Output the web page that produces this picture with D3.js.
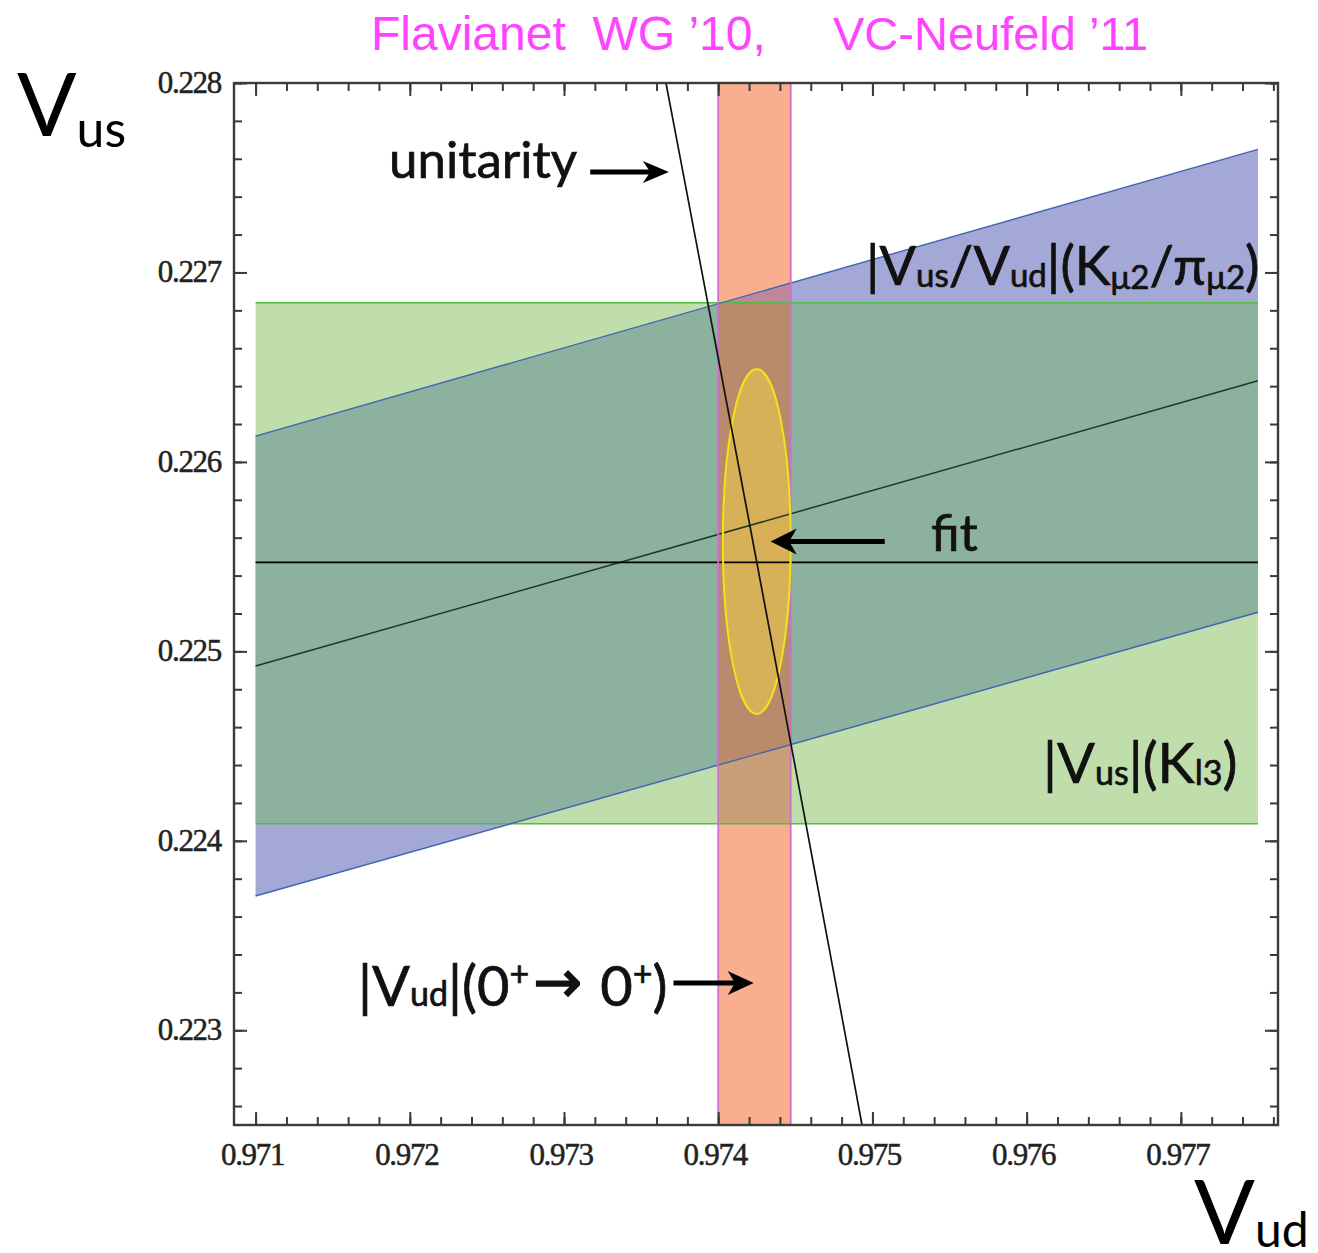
<!DOCTYPE html>
<html>
<head>
<meta charset="utf-8">
<script src="https://cdn.jsdelivr.net/npm/d3@7"></script>
<style>
  body { margin: 0; background: #fff; }
  svg { display: block; }
</style>
</head>
<body>
<svg id="chart" width="1318" height="1253"></svg>
<script>
// ---- axis extents and ticks ----
const vudDomain = [0.97086, 0.97763];
const vusDomain = [0.2225, 0.228];
const vudTicks = [0.971, 0.972, 0.973, 0.974, 0.975, 0.976, 0.977];
const vusTicks = [0.223, 0.224, 0.225, 0.226, 0.227, 0.228];
const vudTickLabels = ["0.971", "0.972", "0.973", "0.974", "0.975", "0.976", "0.977"];
const vusTickLabels = ["0.223", "0.224", "0.225", "0.226", "0.227", "0.228"];
const minorStep = 0.0002;

// ---- constraints ----
// Vud range over which the horizontal and slanted bands are drawn
const bandVudRange = [0.971, 0.9775];
// |Vud| from superallowed 0+ -> 0+ decays: [low, high]
const vudSuperallowed = [0.97400, 0.97447];
// |Vus| from Kl3: [low, central, high]
const vusKl3 = [0.22409, 0.22547, 0.22684];
// |Vus/Vud| from Kmu2/pimu2: [low, central, high]
const ratioKpi = [0.23039, 0.23164, 0.23289];
// fit result: centre [Vud, Vus] and half-widths [dVud, dVus]
const fitCenter = [0.97425, 0.22558];
const fitHalfWidth = [0.00022, 0.00091];

// ---- colours ----
const C = {
  green: "#bfdeac", blue: "#a4a8d6", greenBlue: "#8cb19f",
  orange: "#f8ae8f", orangeGreen: "#c99f78", orangeBlue: "#bd889c", orangeGreenBlue: "#b98a6b",
  ellipse: "#d8b058",
  greenEdge: "#55bb44", blueEdge: "#3f66b0", orangeEdge: "#cf6fc8",
  ratioLine: "#1e3a22", frame: "#3a3a3a", title: "#ff44ff"
};

const svg = d3.select("#chart");
const x = d3.scaleLinear().domain(vudDomain).range([234, 1278]);
const y = d3.scaleLinear().domain(vusDomain).range([1125, 83]);

const defs = svg.append("defs");

// geometry helpers
const greenRect = {
  x: x(bandVudRange[0]), y: y(vusKl3[2]),
  w: x(bandVudRange[1]) - x(bandVudRange[0]), h: y(vusKl3[0]) - y(vusKl3[2])
};
const orangeRect = {
  x: x(vudSuperallowed[0]), y: y(vusDomain[1]),
  w: x(vudSuperallowed[1]) - x(vudSuperallowed[0]), h: y(vusDomain[0]) - y(vusDomain[1])
};
const ratioPath = (r) => [[bandVudRange[0], r * bandVudRange[0]], [bandVudRange[1], r * bandVudRange[1]]];
const bluePoly = [
  [bandVudRange[0], ratioKpi[0] * bandVudRange[0]],
  [bandVudRange[1], ratioKpi[0] * bandVudRange[1]],
  [bandVudRange[1], ratioKpi[2] * bandVudRange[1]],
  [bandVudRange[0], ratioKpi[2] * bandVudRange[0]]
];
const line = d3.line().x(d => x(d[0])).y(d => y(d[1]));
const bluePathD = line(bluePoly) + "Z";

function addRect(sel, r) {
  return sel.append("rect").attr("x", r.x).attr("y", r.y).attr("width", r.w).attr("height", r.h);
}
addRect(defs.append("clipPath").attr("id", "clipGreen"), greenRect);
defs.append("clipPath").attr("id", "clipBlue").append("path").attr("d", bluePathD);

// ---- filled regions ----
const bands = svg.append("g");
addRect(bands, greenRect).attr("fill", C.green);
bands.append("path").attr("d", bluePathD).attr("fill", C.blue);
bands.append("g").attr("clip-path", "url(#clipGreen)")
  .append("path").attr("d", bluePathD).attr("fill", C.greenBlue);
addRect(bands, orangeRect).attr("fill", C.orange);
addRect(bands.append("g").attr("clip-path", "url(#clipGreen)"), orangeRect).attr("fill", C.orangeGreen);
addRect(bands.append("g").attr("clip-path", "url(#clipBlue)"), orangeRect).attr("fill", C.orangeBlue);
addRect(bands.append("g").attr("clip-path", "url(#clipGreen)")
  .append("g").attr("clip-path", "url(#clipBlue)"), orangeRect).attr("fill", C.orangeGreenBlue);

const ell = {
  cx: x(fitCenter[0]), cy: y(fitCenter[1]),
  rx: x(fitCenter[0] + fitHalfWidth[0]) - x(fitCenter[0]),
  ry: y(fitCenter[1] - fitHalfWidth[1]) - y(fitCenter[1])
};
bands.append("ellipse").attr("cx", ell.cx).attr("cy", ell.cy).attr("rx", ell.rx).attr("ry", ell.ry)
  .attr("fill", C.ellipse);

// ---- edge and central lines ----
const lines = svg.append("g").attr("fill", "none");
[vusKl3[0], vusKl3[2]].forEach(v => {
  lines.append("path").attr("d", line([[bandVudRange[0], v], [bandVudRange[1], v]]))
    .attr("stroke", C.greenEdge).attr("stroke-width", 1.6);
});
[ratioKpi[0], ratioKpi[2]].forEach(r => {
  lines.append("path").attr("d", line(ratioPath(r))).attr("stroke", C.blueEdge).attr("stroke-width", 1.4);
});
lines.append("path").attr("d", line(ratioPath(ratioKpi[1]))).attr("stroke", C.ratioLine).attr("stroke-width", 1.5);
lines.append("path").attr("d", line([[bandVudRange[0], vusKl3[1]], [bandVudRange[1], vusKl3[1]]]))
  .attr("stroke", "#000").attr("stroke-width", 1.8);
vudSuperallowed.forEach(v => {
  lines.append("path").attr("d", line([[v, vusDomain[0]], [v, vusDomain[1]]]))
    .attr("stroke", C.orangeEdge).attr("stroke-width", 1.8);
});
lines.append("ellipse").attr("cx", ell.cx).attr("cy", ell.cy).attr("rx", ell.rx).attr("ry", ell.ry)
  .attr("stroke", "#f2e21a").attr("stroke-width", 2);

// unitarity: |Vud|^2 + |Vus|^2 = 1
const unitarity = d3.range(0, 21).map(i => {
  const vus = vusDomain[0] + (vusDomain[1] - vusDomain[0]) * i / 20;
  return [Math.sqrt(1 - vus * vus), vus];
});
lines.append("path").attr("d", line(unitarity)).attr("stroke", "#111").attr("stroke-width", 1.7);

// ---- frame and ticks ----
const frame = svg.append("g");
frame.append("rect")
  .attr("x", x(vudDomain[0])).attr("y", y(vusDomain[1]))
  .attr("width", x(vudDomain[1]) - x(vudDomain[0])).attr("height", y(vusDomain[0]) - y(vusDomain[1]))
  .attr("fill", "none").attr("stroke", C.frame).attr("stroke-width", 2.4);

const minorVud = d3.range(Math.ceil(vudDomain[0] / minorStep), Math.floor(vudDomain[1] / minorStep) + 1)
  .map(i => +(i * minorStep).toFixed(5));
const minorVus = d3.range(Math.ceil(vusDomain[0] / minorStep), Math.floor(vusDomain[1] / minorStep) + 1)
  .map(i => +(i * minorStep).toFixed(5));

function tickAxis(axisFn, scale, values, size, tx, ty) {
  const g = frame.append("g").attr("transform", `translate(${tx},${ty})`)
    .call(axisFn(scale).tickValues(values).tickSize(-size).tickFormat(""));
  g.select(".domain").remove();
  g.selectAll(".tick line").attr("stroke", C.frame).attr("stroke-width", 2);
  g.selectAll(".tick text").remove();
  return g;
}
const yb = y(vusDomain[0]), yt = y(vusDomain[1]), xl = x(vudDomain[0]), xr = x(vudDomain[1]);
tickAxis(d3.axisBottom, x, minorVud, 8, 0, yb);
tickAxis(d3.axisTop, x, minorVud, 8, 0, yt);
tickAxis(d3.axisLeft, y, minorVus, 8, xl, 0);
tickAxis(d3.axisRight, y, minorVus, 8, xr, 0);
tickAxis(d3.axisBottom, x, vudTicks, 13, 0, yb);
tickAxis(d3.axisTop, x, vudTicks, 13, 0, yt);
tickAxis(d3.axisLeft, y, vusTicks, 13, xl, 0);
tickAxis(d3.axisRight, y, vusTicks, 13, xr, 0);

const tickFont = "'Liberation Serif', 'DejaVu Serif', serif";
frame.append("g").selectAll("text").data(vudTicks).join("text")
  .attr("x", d => x(d) - 3).attr("y", yb + 40)
  .attr("text-anchor", "middle").attr("font-family", tickFont).attr("font-size", 31)
  .attr("letter-spacing", -1.3).attr("fill", "#222").attr("stroke", "#222").attr("stroke-width", 0.5)
  .text((d, i) => vudTickLabels[i]);
frame.append("g").selectAll("text").data(vusTicks).join("text")
  .attr("x", xl - 13).attr("y", d => y(d) + 10)
  .attr("text-anchor", "end").attr("font-family", tickFont).attr("font-size", 31)
  .attr("letter-spacing", -1.3).attr("fill", "#222").attr("stroke", "#222").attr("stroke-width", 0.5)
  .text((d, i) => vusTickLabels[i]);

// ---- labels ----
const labelFont = "Lato, 'Open Sans', sans-serif";
function richText(px, py, size, parts, weight = 0.7) {
  const t = svg.append("text").attr("x", px).attr("y", py)
    .attr("font-family", labelFont).attr("font-size", size).attr("fill", "#111")
    .attr("stroke", "#111").attr("stroke-width", weight);
  let shift = 0;
  parts.forEach(p => {
    const s = typeof p === "string" ? { t: p } : p;
    let target = 0, fs = size;
    if ("sub" in s) { target = s.sub; fs = s.fs || size * 0.58; }
    if ("sup" in s) { target = -s.sup; fs = s.fs || size * 0.58; }
    const ts = t.append("tspan").attr("dy", target - shift).attr("font-size", fs).text(s.t);
    if (s.family) ts.attr("font-family", s.family).attr("stroke-width", s.sw || weight);
    if (s.dx) ts.attr("dx", s.dx);
    shift = target;
  });
  return t;
}

function arrow(from, to, w, headLen, headW) {
  const x1 = x(from[0]), y1 = y(from[1]), x2 = x(to[0]), y2 = y(to[1]);
  const ang = Math.atan2(y2 - y1, x2 - x1);
  const g = svg.append("g").attr("transform", `translate(${x2},${y2}) rotate(${ang * 180 / Math.PI})`);
  const len = Math.hypot(x2 - x1, y2 - y1);
  g.append("line").attr("x1", -len).attr("y1", 0).attr("x2", -headLen * 0.7).attr("y2", 0)
    .attr("stroke", "#000").attr("stroke-width", w);
  g.append("path")
    .attr("d", `M0,0 L${-headLen},${-headW / 2} L${-headLen * 0.72},0 L${-headLen},${headW / 2} Z`)
    .attr("fill", "#000");
}

// title
const titleFont = "'Liberation Sans', Arial, sans-serif";
svg.append("text").attr("x", 371).attr("y", 50).attr("font-family", titleFont)
  .attr("font-size", 48).attr("fill", C.title).attr("xml:space", "preserve")
  .style("white-space", "pre").text("Flavianet  WG ’10,");
svg.append("text").attr("x", 833).attr("y", 50).attr("font-family", titleFont)
  .attr("font-size", 47).attr("fill", C.title).text("VC-Neufeld ’11");

// axis titles
richText(17, 136, 88, ["V", { t: "us", sub: 11, fs: 50 }], 0).attr("fill", "#000");
richText(1194, 1244, 90, ["V", { t: "ud", sub: 3, fs: 48 }], 0).attr("fill", "#000");

// annotations
richText(389, 178, 51, ["unitarity"]);
arrow([0.97317, 0.22753], [0.97368, 0.22753], 5, 26, 22);

richText(866, 285, 54, ["|V", { t: "us", sub: 2, fs: 33 }, "/V", { t: "ud", sub: 2, fs: 33 }, "|(K",
  { t: "μ2", sub: 4, fs: 33 }, "/π", { t: "μ2", sub: 4, fs: 33 }, ")"]);

richText(931, 551, 50, ["fit"]);
arrow([0.97508, fitCenter[1]], [0.97434, fitCenter[1]], 5, 26, 26);

richText(1043, 783, 56, ["|V", { t: "us", sub: 2, fs: 34 }, "|(K", { t: "l3", sub: 2, fs: 34 }, ")"]);

richText(358, 1006, 56, ["|V", { t: "ud", sub: 0, fs: 34 }, "|(0", { t: "+", sup: 20, fs: 34 },
  { t: "→ ", sup: 4, fs: 58, family: "'DejaVu Sans', sans-serif", sw: 1.6, dx: 4 },
  "0", { t: "+", sup: 20, fs: 34 }, ")"]);
arrow([0.97371, 0.22325], [0.97423, 0.22325], 5, 26, 24);
</script>
</body>
</html>
